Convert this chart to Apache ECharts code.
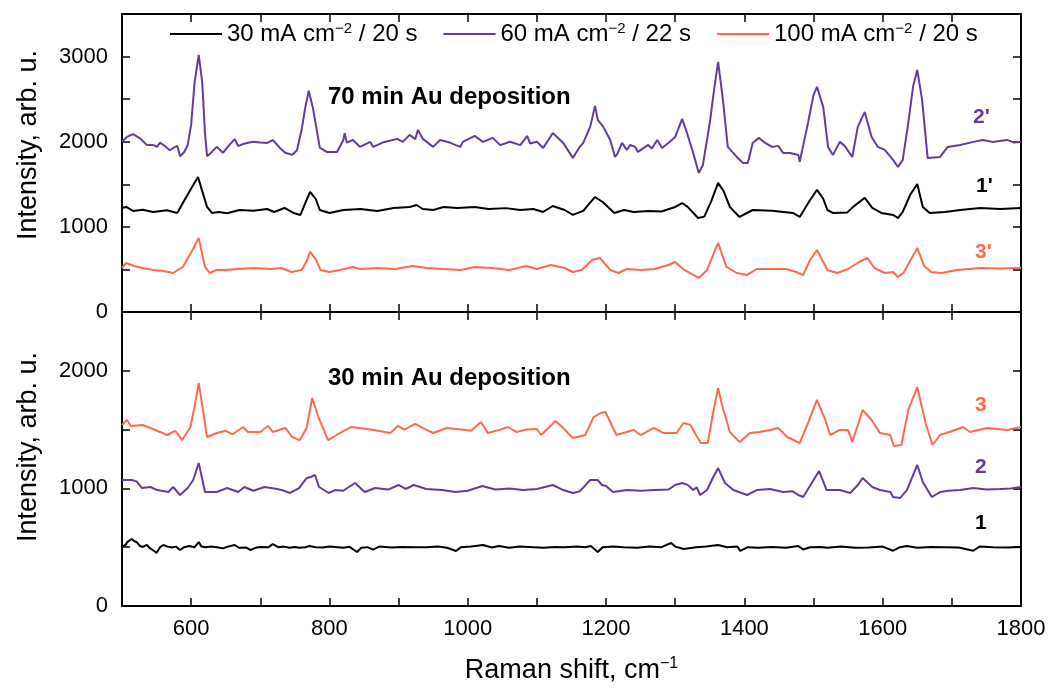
<!DOCTYPE html>
<html>
<head>
<meta charset="utf-8">
<script src="https://cdn.jsdelivr.net/npm/echarts@6/dist/echarts.min.js"></script>
<style>
  html, body { margin: 0; padding: 0; background: #fff; }
  #chart { width: 1051px; height: 689px; }
</style>
</head>
<body>
<div id="chart"></div>
<script>
// SERS spectra, Raman shift (cm^-1) vs intensity (arb. u.)
const FONT = 'Liberation Sans, Arial, Helvetica, sans-serif';

const seriesNames = ['30 mA cm-2 / 20 s', '60 mA cm-2 / 22 s', '100 mA cm-2 / 20 s'];
const legendLabels = ['{a|30 mA cm}{s|\u22122}{a| / 20 s}', '{a|60 mA cm}{s|\u22122}{a| / 22 s}', '{a|100 mA cm}{s|\u22122}{a| / 20 s}'];
const colors = ['#000000', '#653a9e', '#ff6a4f'];

const xTicks = [600, 800, 1000, 1200, 1400, 1600, 1800];
const yTicksTop = [0, 1000, 2000, 3000];
const yTicksBottom = [0, 1000, 2000];

// 70 min Au deposition
const top2 = [[500,2000],[508,2060],[516,2090],[526,2040],[536,1960],[545,1960],[551,1940],[555,1990],[562,1950],[569,1900],[575,1930],[580,1950],[584,1830],[590,1880],[595,1960],[600,2200],[605,2700],[611,3020],[616,2700],[620,2100],[623,1830],[630,1880],[637,1940],[646,1870],[655,1960],[663,2030],[668,1950],[678,1980],[689,2000],[700,1990],[710,1986],[718,2020],[728,1930],[736,1870],[746,1845],[753,1900],[760,2150],[765,2400],[770,2600],[776,2400],[786,1930],[796,1880],[811,1880],[820,2020],[822,2100],[825,1990],[834,2020],[844,1940],[859,1998],[863,1940],[877,1990],[898,2033],[906,1998],[916,2080],[924,2030],[928,2139],[935,2033],[950,1939],[960,2021],[974,1990],[989,1939],[993,1998],[1010,2068],[1022,1998],[1036,2045],[1047,1960],[1061,2000],[1076,1960],[1086,2068],[1090,1980],[1100,2000],[1109,1927],[1123,2103],[1138,1986],[1152,1810],[1162,1940],[1167,1986],[1177,2174],[1184,2421],[1188,2256],[1196,2174],[1206,2021],[1213,1821],[1217,1868],[1223,1986],[1230,1904],[1235,1962],[1242,1939],[1246,1880],[1261,1962],[1266,1920],[1274,2021],[1281,1927],[1290,1986],[1300,2056],[1310,2268],[1317,2103],[1326,1868],[1334,1633],[1340,1727],[1350,2221],[1356,2600],[1362,2938],[1369,2491],[1376,1939],[1389,1821],[1398,1751],[1405,1751],[1412,1986],[1421,2045],[1430,1986],[1440,1939],[1449,1951],[1456,1868],[1466,1868],[1478,1845],[1480,1763],[1492,2221],[1500,2550],[1505,2644],[1514,2409],[1521,1939],[1528,1845],[1538,1998],[1545,1951],[1556,1821],[1564,2174],[1574,2350],[1584,2056],[1593,1939],[1603,1904],[1615,1786],[1622,1704],[1629,1786],[1637,2221],[1644,2650],[1650,2844],[1657,2491],[1665,1810],[1683,1821],[1694,1939],[1712,1962],[1731,1998],[1745,2021],[1759,1998],[1780,2021],[1790,1990],[1800,2000]];

const top1 = [[500,1222],[506,1234],[516,1187],[530,1200],[545,1175],[565,1195],[580,1163],[588,1280],[600,1450],[610,1586],[616,1420],[623,1234],[630,1163],[640,1175],[652,1160],[670,1198],[690,1190],[710,1210],[720,1175],[735,1222],[748,1163],[758,1140],[765,1280],[772,1410],[780,1330],[786,1198],[800,1163],[820,1198],[845,1210],[869,1187],[893,1222],[916,1234],[926,1257],[935,1210],[950,1198],[965,1234],[985,1222],[1010,1234],[1030,1210],[1055,1220],[1076,1198],[1095,1210],[1109,1175],[1123,1245],[1140,1198],[1152,1140],[1167,1187],[1184,1351],[1195,1292],[1212,1163],[1226,1198],[1240,1175],[1261,1187],[1280,1180],[1300,1234],[1310,1280],[1318,1234],[1333,1104],[1342,1120],[1352,1300],[1362,1516],[1370,1420],[1379,1234],[1393,1116],[1412,1198],[1440,1190],[1470,1163],[1480,1116],[1495,1316],[1505,1434],[1514,1330],[1520,1198],[1528,1163],[1549,1170],[1557,1234],[1574,1340],[1585,1222],[1598,1163],[1615,1140],[1622,1104],[1629,1175],[1640,1380],[1650,1504],[1658,1234],[1668,1163],[1690,1175],[1712,1198],[1741,1222],[1770,1210],[1800,1222]];

const top3 = [[500,517],[506,576],[518,540],[530,517],[545,494],[560,482],[574,458],[588,529],[600,700],[611,870],[620,529],[627,458],[637,494],[650,494],[667,505],[690,517],[715,505],[730,517],[745,470],[760,494],[767,600],[772,705],[780,620],[787,494],[800,470],[815,494],[834,529],[844,505],[869,517],[895,505],[920,540],[940,517],[965,505],[990,494],[1010,529],[1035,517],[1060,494],[1085,540],[1100,505],[1120,552],[1140,517],[1152,470],[1165,494],[1180,611],[1191,634],[1206,494],[1218,458],[1230,505],[1250,494],[1270,505],[1290,552],[1300,587],[1313,494],[1334,400],[1346,494],[1362,811],[1374,529],[1389,458],[1404,435],[1418,505],[1440,505],[1460,505],[1475,470],[1485,435],[1495,611],[1505,728],[1520,494],[1534,458],[1550,505],[1566,587],[1578,634],[1588,517],[1603,458],[1615,470],[1622,411],[1630,458],[1650,752],[1660,540],[1670,470],[1685,458],[1708,494],[1742,517],[1770,510],[1800,517]];

// 30 min Au deposition
const bot3 = [[500,1539],[507,1582],[513,1530],[530,1539],[541,1514],[555,1480],[565,1454],[577,1490],[587,1411],[599,1522],[605,1700],[611,1896],[623,1437],[637,1471],[650,1490],[660,1460],[675,1522],[682,1480],[700,1480],[711,1531],[718,1480],[736,1514],[746,1437],[757,1411],[767,1514],[775,1769],[784,1607],[798,1411],[815,1471],[831,1522],[850,1510],[870,1490],[888,1471],[899,1531],[908,1500],[924,1548],[936,1510],[950,1471],[970,1514],[990,1500],[1005,1490],[1019,1565],[1029,1471],[1047,1500],[1058,1522],[1070,1480],[1085,1500],[1100,1505],[1106,1454],[1127,1573],[1138,1514],[1152,1428],[1170,1454],[1182,1607],[1192,1641],[1199,1650],[1215,1454],[1230,1480],[1240,1497],[1250,1454],[1269,1514],[1283,1471],[1302,1471],[1312,1556],[1322,1540],[1330,1454],[1337,1386],[1347,1386],[1355,1650],[1362,1854],[1368,1700],[1379,1480],[1393,1394],[1408,1471],[1422,1480],[1437,1497],[1449,1514],[1462,1437],[1480,1386],[1492,1556],[1505,1752],[1517,1582],[1524,1454],[1538,1497],[1550,1497],[1556,1394],[1571,1667],[1584,1582],[1596,1471],[1611,1454],[1616,1360],[1627,1369],[1637,1667],[1650,1862],[1662,1556],[1672,1369],[1683,1454],[1705,1497],[1716,1522],[1726,1480],[1751,1514],[1780,1497],[1800,1522]];

const bot2 = [[500,1071],[514,1071],[521,1060],[529,1003],[541,1012],[551,986],[567,969],[574,1012],[584,944],[595,1003],[603,1071],[611,1216],[620,969],[637,969],[652,1003],[668,969],[677,1012],[690,980],[706,1012],[720,1000],[731,986],[743,961],[756,1003],[767,1088],[773,1097],[779,1114],[785,1012],[799,961],[808,986],[820,980],[828,1012],[837,1046],[851,969],[866,1003],[885,990],[900,1029],[910,995],[922,1029],[940,995],[963,986],[982,969],[1000,980],[1021,1020],[1040,990],[1060,1000],[1080,986],[1100,995],[1123,1029],[1138,986],[1152,961],[1162,975],[1177,1071],[1188,1071],[1194,1029],[1200,1020],[1210,969],[1230,986],[1250,980],[1270,986],[1290,990],[1300,1029],[1310,1046],[1318,1030],[1326,986],[1331,1010],[1336,944],[1346,986],[1355,1097],[1362,1173],[1372,1046],[1384,986],[1404,944],[1418,986],[1437,995],[1456,969],[1470,975],[1478,944],[1485,927],[1508,1148],[1519,986],[1538,986],[1553,961],[1564,1029],[1571,1088],[1585,1012],[1596,986],[1611,969],[1615,927],[1625,918],[1635,986],[1650,1199],[1658,1054],[1671,927],[1683,969],[1695,980],[1712,986],[1731,1003],[1750,990],[1770,995],[1785,1000],[1800,1012]];

const bot1 = [[500,502],[505,520],[508,545],[514,570],[518,550],[521,544],[526,510],[530,502],[536,520],[540,493],[546,470],[550,451],[555,500],[560,519],[566,505],[572,498],[578,505],[584,476],[590,500],[597,510],[605,500],[611,544],[615,505],[621,500],[629,505],[637,500],[646,490],[653,505],[663,519],[669,495],[680,497],[686,476],[693,495],[700,502],[712,500],[718,527],[726,500],[734,505],[742,495],[750,502],[756,495],[765,500],[771,510],[780,500],[790,497],[800,505],[812,500],[820,495],[829,503],[840,459],[846,495],[855,500],[863,480],[872,505],[890,497],[905,502],[922,500],[940,500],[957,505],[970,495],[983,468],[990,500],[1005,505],[1022,519],[1035,497],[1045,510],[1060,495],[1075,505],[1095,500],[1110,495],[1125,502],[1140,500],[1158,505],[1170,500],[1178,510],[1188,459],[1195,500],[1210,505],[1225,500],[1245,495],[1262,505],[1280,500],[1294,536],[1300,505],[1312,485],[1330,500],[1345,505],[1362,519],[1375,500],[1390,505],[1394,468],[1405,500],[1420,495],[1440,502],[1460,495],[1478,510],[1485,480],[1495,500],[1510,502],[1520,495],[1540,505],[1560,495],[1580,497],[1600,505],[1615,470],[1625,500],[1635,510],[1650,495],[1670,502],[1690,500],[1710,497],[1731,470],[1740,505],[1760,500],[1780,497],[1800,502]];

const axisLineStyle = { color: '#000', width: 2 };
const tickStyle = { show: true, inside: true, length: 8, lineStyle: { color: '#000', width: 1.5 } };

function xAxis(gridIndex, position, showLabels, extra) {
  return Object.assign({
    type: 'value', gridIndex, position,
    min: 500, max: 1800, interval: 100,
    axisLine: { show: true, onZero: false, lineStyle: axisLineStyle },
    axisTick: tickStyle,
    axisLabel: {
      show: showLabels, margin: 12, fontSize: 22, fontFamily: FONT, color: '#000',
      formatter: v => (xTicks.indexOf(v) >= 0 ? String(v) : '')
    },
    splitLine: { show: false }
  }, extra || {});
}

function yAxis(gridIndex, position, max, labels, extra) {
  return Object.assign({
    type: 'value', gridIndex, position,
    min: 0, max: max, interval: 500,
    axisLine: { show: true, onZero: false, lineStyle: axisLineStyle },
    axisTick: tickStyle,
    axisLabel: {
      show: !!labels, margin: 14, fontSize: 22, fontFamily: FONT, color: '#000',
      showMaxLabel: false,
      formatter: v => (labels && labels.indexOf(v) >= 0 ? String(v) : '')
    },
    splitLine: { show: false }
  }, extra || {});
}

const yName = (shift) => ({
  name: 'Intensity, arb. u.', nameLocation: 'middle', nameGap: 80, nameRotate: 90,
  nameTextStyle: { fontSize: 27, fontFamily: FONT, color: '#000', padding: [0, 0, 0, shift] }
});

function line(name, data, color, xi, yi) {
  return {
    type: 'line', name, data, xAxisIndex: xi, yAxisIndex: yi,
    symbol: 'none', showSymbol: false, smooth: false,
    lineStyle: { color, width: 2 }, itemStyle: { color },
    emphasis: { disabled: true }, animation: false
  };
}

const chart = echarts.init(document.getElementById('chart'), null, { renderer: 'canvas' });
chart.setOption({
  backgroundColor: '#fff',
  animation: false,
  grid: [
    { left: 122, right: 30, top: 14, height: 298 },
    { left: 122, right: 30, top: 312, height: 294 }
  ],
  xAxis: [
    xAxis(0, 'bottom', false),
    xAxis(0, 'top', false),
    xAxis(1, 'bottom', true, {
      name: '{a|Raman shift, cm}{s|\u22121}', nameLocation: 'middle', nameGap: 50,
      nameTextStyle: {
        rich: {
          a: { fontSize: 27, fontFamily: FONT, color: '#000', lineHeight: 30 },
          s: { fontSize: 16, fontFamily: FONT, color: '#000', verticalAlign: 'top', lineHeight: 16 }
        }
      }
    }),
    xAxis(1, 'top', false)
  ],
  yAxis: [
    yAxis(0, 'left', 3500, yTicksTop, yName(36)),
    yAxis(0, 'right', 3500, null),
    yAxis(1, 'left', 2500, yTicksBottom, yName(24)),
    yAxis(1, 'right', 2500, null)
  ],
  legend: {
    data: seriesNames,
    left: 165, top: 16,
    itemWidth: 52, itemHeight: 14, itemGap: 26,
    icon: 'path://M0,6L52,6L52,8L0,8Z',
    formatter: name => legendLabels[seriesNames.indexOf(name)],
    textStyle: {
      rich: {
        a: { fontSize: 24, fontFamily: FONT, color: '#000', lineHeight: 26 },
        s: { fontSize: 15, fontFamily: FONT, color: '#000', verticalAlign: 'top', lineHeight: 14 }
      }
    }
  },
  series: [
    line(seriesNames[0], top1, colors[0], 0, 0),
    line(seriesNames[1], top2, colors[1], 0, 0),
    line(seriesNames[2], top3, colors[2], 0, 0),
    line(seriesNames[0], bot1, colors[0], 2, 2),
    line(seriesNames[1], bot2, colors[1], 2, 2),
    line(seriesNames[2], bot3, colors[2], 2, 2)
  ],
  graphic: [
    { type: 'text', x: 328, y: 97, style: { text: '70 min Au deposition', fontSize: 24, fontWeight: 'bold', fontFamily: FONT, fill: '#000', verticalAlign: 'middle' } },
    { type: 'text', x: 328, y: 378, style: { text: '30 min Au deposition', fontSize: 24, fontWeight: 'bold', fontFamily: FONT, fill: '#000', verticalAlign: 'middle' } },
    { type: 'text', x: 973, y: 117, style: { text: "2'", fontSize: 21, fontWeight: 'bold', fontFamily: FONT, fill: colors[1], verticalAlign: 'middle' } },
    { type: 'text', x: 976, y: 186, style: { text: "1'", fontSize: 21, fontWeight: 'bold', fontFamily: FONT, fill: colors[0], verticalAlign: 'middle' } },
    { type: 'text', x: 975, y: 252, style: { text: "3'", fontSize: 21, fontWeight: 'bold', fontFamily: FONT, fill: colors[2], verticalAlign: 'middle' } },
    { type: 'text', x: 975, y: 405, style: { text: '3', fontSize: 21, fontWeight: 'bold', fontFamily: FONT, fill: colors[2], verticalAlign: 'middle' } },
    { type: 'text', x: 975, y: 467, style: { text: '2', fontSize: 21, fontWeight: 'bold', fontFamily: FONT, fill: colors[1], verticalAlign: 'middle' } },
    { type: 'text', x: 975, y: 523, style: { text: '1', fontSize: 21, fontWeight: 'bold', fontFamily: FONT, fill: colors[0], verticalAlign: 'middle' } }
  ]
});
</script>
</body>
</html>
